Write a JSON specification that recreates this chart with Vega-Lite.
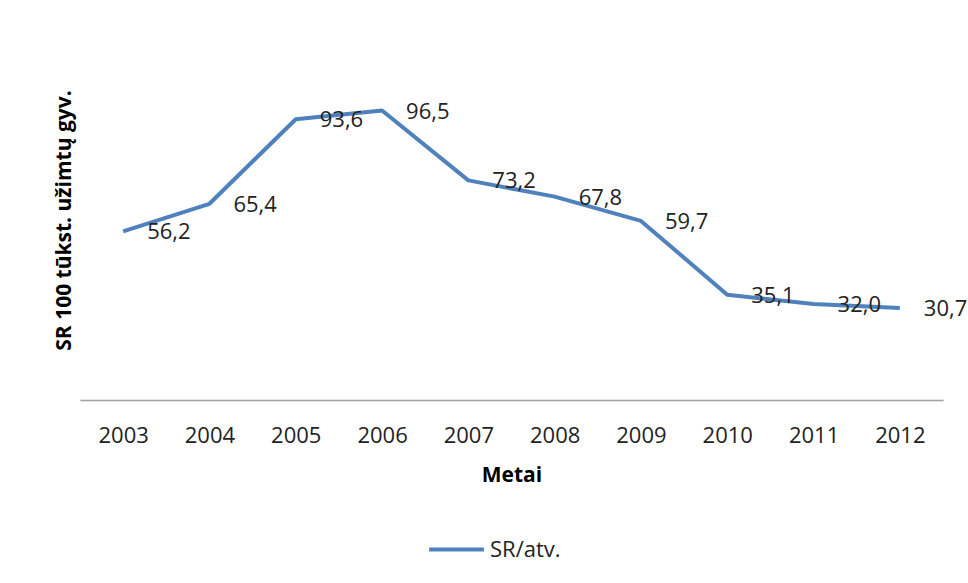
{
  "$schema": "https://vega.github.io/schema/vega-lite/v6.json",
  "autosize": "none",
  "width": 863,
  "height": 360,
  "padding": {"left": 80, "top": 40, "right": 25, "bottom": 183},
  "background": "white",
  "config": {
    "font": "Open Sans",
    "view": {"stroke": null},
    "locale": {"number": {"decimal": ",", "thousands": ".", "grouping": [3], "currency": ["", " €"]}}
  },
  "data": {"values": [
    {"year": "2003", "value": 56.2, "series": "SR/atv."},
    {"year": "2004", "value": 65.4, "series": "SR/atv."},
    {"year": "2005", "value": 93.6, "series": "SR/atv."},
    {"year": "2006", "value": 96.5, "series": "SR/atv."},
    {"year": "2007", "value": 73.2, "series": "SR/atv."},
    {"year": "2008", "value": 67.8, "series": "SR/atv."},
    {"year": "2009", "value": 59.7, "series": "SR/atv."},
    {"year": "2010", "value": 35.1, "series": "SR/atv."},
    {"year": "2011", "value": 32.0, "series": "SR/atv."},
    {"year": "2012", "value": 30.7, "series": "SR/atv."}
  ]},
  "encoding": {
    "x": {
      "field": "year", "type": "ordinal",
      "scale": {"paddingInner": 0, "paddingOuter": 0},
      "axis": {
        "title": "Metai", "titleFont": "Open Sans", "titleFontSize": 21, "titleFontWeight": "bold", "titleColor": "#000", "titlePadding": 18,
        "labelAngle": 0, "labelFontSize": 22, "labelColor": "#222", "labelPadding": 25,
        "ticks": false, "domainColor": "#a0a0a0", "domainWidth": 1.5, "grid": false
      }
    },
    "y": {
      "field": "value", "type": "quantitative",
      "scale": {"domain": [0, 120]},
      "axis": {
        "title": "SR 100 tūkst. užimtų gyv.", "titleFontSize": 21, "titleFontWeight": "bold", "titleColor": "#000", "titlePadding": 6,
        "labels": false, "ticks": false, "domain": false, "grid": false
      }
    }
  },
  "layer": [
    {
      "mark": {"type": "line", "strokeWidth": 4, "strokeJoin": "round"},
      "encoding": {
        "color": {
          "field": "series", "type": "nominal",
          "scale": {"range": ["#4F81BD"]},
          "legend": {
            "orient": "none", "legendX": 347, "legendY": 480, "title": null, "symbolType": "stroke", "symbolSize": 3000, "symbolStrokeWidth": 4,
            "labelFontSize": 22, "labelColor": "#222", "direction": "horizontal", "labelOffset": 4
          }
        }
      }
    },
    {
      "mark": {"type": "text", "align": "left", "baseline": "middle", "dx": 24, "dy": 1, "fontSize": 22, "color": "#222"},
      "encoding": {
        "text": {"field": "value", "type": "quantitative", "format": ".1f"}
      }
    }
  ]
}
